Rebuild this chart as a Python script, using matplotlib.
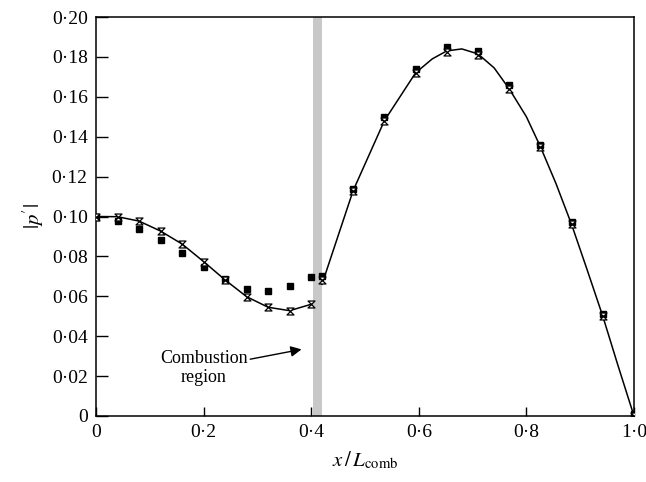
import numpy as np
import matplotlib
matplotlib.use("Agg")
from matplotlib import pyplot as plt
from matplotlib.path import Path

# values
x_left = [0, 0.04, 0.08, 0.12, 0.16, 0.20, 0.24, 0.28, 0.32, 0.36, 0.40]
calc_left = [0.1000, 0.0999, 0.0977, 0.0927, 0.0862, 0.0774, 0.0682, 0.0598, 0.0545, 0.0528, 0.0560]
meas_left = [0.1000, 0.0977, 0.0939, 0.0882, 0.0815, 0.0749, 0.0685, 0.0638, 0.0627, 0.0650, 0.0698]

x_right = [0.42, 0.478, 0.536, 0.594, 0.652, 0.71, 0.768, 0.826, 0.884, 0.942, 1.0]
calc_right = [0.0680, 0.1130, 0.1480, 0.1720, 0.1825, 0.1810, 0.1640, 0.1350, 0.0960, 0.0500, 0.0]
meas_right = [0.0700, 0.1140, 0.1500, 0.1740, 0.1850, 0.1830, 0.1660, 0.1360, 0.0970, 0.0510, 0.0010]

# smooth curve
curve_left_x = x_left
curve_left_y = calc_left
curve_right_x = [0.42, 0.478, 0.536, 0.594, 0.625, 0.652, 0.68, 0.71, 0.74, 0.768, 0.80, 0.826, 0.855, 0.884, 0.912, 0.942, 0.97, 1.0]
curve_right_y = [0.0660, 0.1130, 0.1480, 0.1720, 0.1790, 0.1830, 0.1840, 0.1815, 0.1745, 0.1640, 0.1500, 0.1350, 0.1165, 0.0960, 0.0740, 0.0500, 0.0255, 0.0]

band = [0.403, 0.421]

xticks = [0, 0.2, 0.4, 0.6, 0.8, 1.0]
xtick_labels = ["0", "0·2", "0·4", "0·6", "0·8", "1·0"]
yticks = [0, 0.02, 0.04, 0.06, 0.08, 0.10, 0.12, 0.14, 0.16, 0.18, 0.20]
ytick_labels = ["0"] + ["0·%02d" % int(round(v * 100)) for v in yticks[1:]]

plt.rcParams['font.family'] = ['Liberation Serif', 'DejaVu Serif']
plt.rcParams['mathtext.fontset'] = 'stix'

# hourglass marker
hourglass = Path([(-1, 1), (1, 1), (-1, -1), (1, -1), (-1, 1)],
                 [Path.MOVETO, Path.LINETO, Path.LINETO, Path.LINETO, Path.CLOSEPOLY])

fig = plt.figure(figsize=(6.46, 4.82), dpi=100)
ax = fig.add_axes([96 / 646, 66 / 482, 538 / 646, 399 / 482])

ax.axvspan(band[0], band[1], color="#c8c8c8", lw=0, zorder=0)

ax.plot(curve_left_x, curve_left_y, color="black", lw=1.1, zorder=2)
ax.plot(curve_right_x, curve_right_y, color="black", lw=1.1, zorder=2)

ax.plot(x_left + x_right, meas_left + meas_right, ls="none", marker="s", ms=5,
        color="black", zorder=3)
ax.plot(x_left + x_right, calc_left + calc_right, ls="none", marker=hourglass, ms=5,
        mfc="white", mec="black", mew=0.9, zorder=4)

ax.annotate("Combustion\nregion", xy=(0.382, 0.0334), xytext=(0.20, 0.024),
            ha="center", va="center", fontsize=13, linespacing=1.1,
            arrowprops=dict(arrowstyle="-|>", color="black", lw=1.0,
                            mutation_scale=16, shrinkA=38, shrinkB=0))

ax.set_xlim(0, 1.0)
ax.set_ylim(0, 0.20)
ax.set_xticks(xticks)
ax.set_xticklabels(xtick_labels, fontsize=14)
ax.set_yticks(yticks)
ax.set_yticklabels(ytick_labels, fontsize=14)
ax.tick_params(axis="x", direction="in", length=6.5, width=1.0, pad=6)
ax.tick_params(axis="y", direction="in", length=8.5, width=1.0, pad=6)
for s in ax.spines.values():
    s.set_linewidth(1.1)

ax.set_xlabel(r"$x\,/\,L_{\mathrm{comb}}$", fontsize=15, labelpad=6)
ax.set_ylabel(r"$|p'|$", fontsize=15, labelpad=4)

fig.savefig("out.png", dpi=100)
